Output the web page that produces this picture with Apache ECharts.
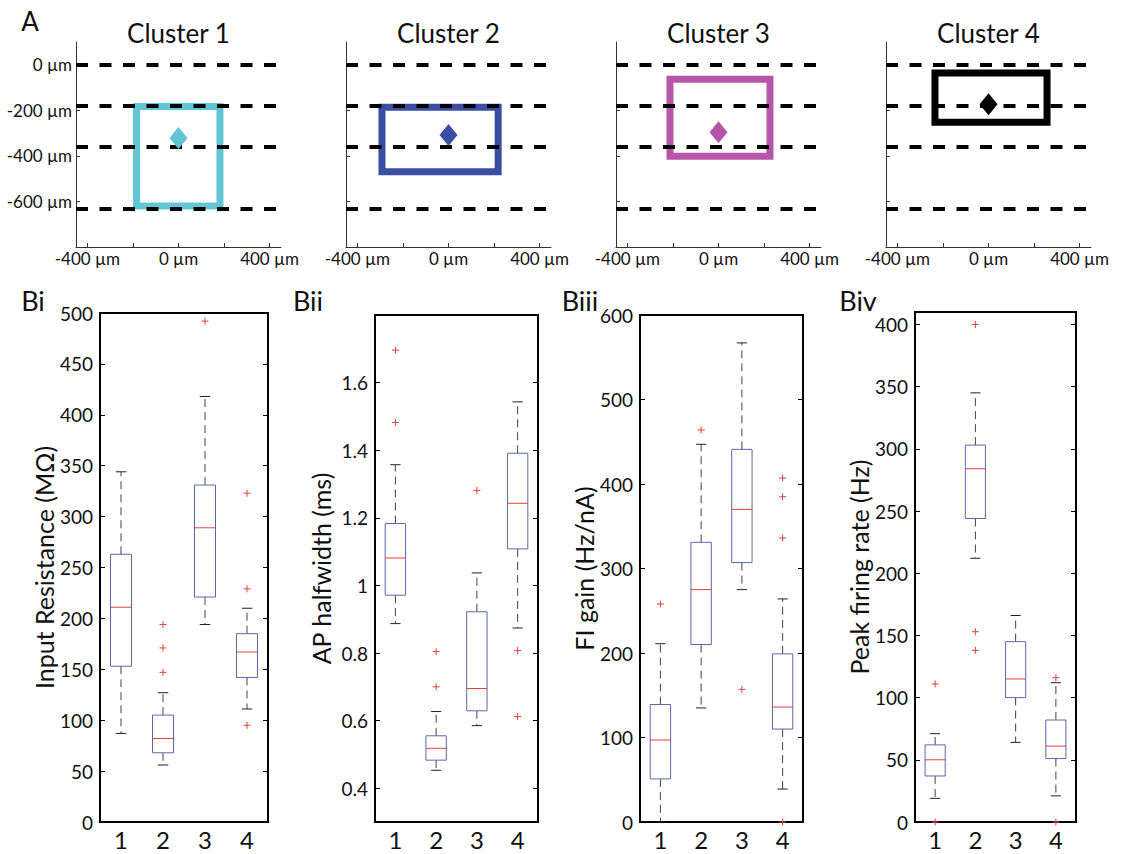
<!DOCTYPE html>
<html>
<head>
<meta charset="utf-8">
<title>Cluster morphology and electrophysiology</title>
<script src="https://cdn.jsdelivr.net/npm/echarts@6/dist/echarts.min.js"></script>
<style>
  html, body { margin: 0; padding: 0; background: #fff; }
  #chart { width: 1128px; height: 854px; }
</style>
</head>
<body>
<div id="chart"></div>
<script>
// ---------- Panel A: soma positions per cluster (µm) ----------
const clusterNames = ['Cluster 1', 'Cluster 2', 'Cluster 3', 'Cluster 4'];
const clusterColors = ['#62c5d6', '#3b4ea3', '#b556a9', '#000000'];
const layerDepths = [0, -180, -362, -630];
// extent boxes: [xMin, xMax, yTop, yBottom]
const clusterBoxes = [
  [-184, 182, -183, -620],
  [-292, 218, -187, -470],
  [-213, 226, -63, -402],
  [-235, 257, -36, -252]
];
// cluster centroid: [x, depth]
const clusterCenters = [[0, -321], [0, -308], [0, -296], [0, -173]];
const depthTicks = [0, -200, -400, -600];
const depthLabels = [0, -200, -400, -600];
const lateralTicks = [-400, -200, 0, 200, 400];
const lateralLabels = [-400, 0, 400];

// ---------- Panel B: box plot statistics per cluster ----------
const categories = [1, 2, 3, 4];
// [lower whisker, Q1, median, Q3, upper whisker]
const resistanceStats = [
  [87, 153, 211, 263, 344],
  [56, 68, 82, 105, 127],
  [194, 221, 289, 331, 418],
  [111, 142, 167, 185, 210]
];
const resistanceOutliers = [[2, 194], [2, 171], [2, 147], [3, 492], [4, 323], [4, 229], [4, 95]];

const halfwidthStats = [
  [0.887, 0.971, 1.081, 1.183, 1.357],
  [0.453, 0.483, 0.518, 0.555, 0.627],
  [0.585, 0.629, 0.695, 0.922, 1.037],
  [0.874, 1.108, 1.243, 1.391, 1.543]
];
const halfwidthOutliers = [[1, 1.696], [1, 1.482], [2, 0.804], [2, 0.700], [3, 1.281], [4, 0.807], [4, 0.612]];

const gainStats = [
  [0, 51, 97, 139, 211],
  [135, 210, 275, 331, 447],
  [275, 307, 370, 441, 567],
  [39, 110, 136, 199, 264]
];
const gainOutliers = [[1, 258], [2, 464], [3, 157], [4, 407], [4, 385], [4, 336], [4, 0]];

const rateStats = [
  [19, 37, 50, 62, 71],
  [212, 244, 284, 303, 345],
  [64, 100, 115, 145, 166],
  [21, 51, 61, 82, 112]
];
const rateOutliers = [[1, 111], [1, 0], [2, 400], [2, 153], [2, 138], [4, 116], [4, 0]];

const resistanceTicks = [0, 50, 100, 150, 200, 250, 300, 350, 400, 450, 500];
const halfwidthTicks = [0.4, 0.6, 0.8, 1, 1.2, 1.4, 1.6];
const gainTicks = [0, 100, 200, 300, 400, 500, 600];
const rateTicks = [0, 50, 100, 150, 200, 250, 300, 350, 400];

const FONT = 'Lato, "Open Sans", sans-serif';
const TEXT = '#111';

const panelsB = [
  { label: 'Bi', name: 'Input Resistance (MΩ)', stats: resistanceStats, outliers: resistanceOutliers,
    min: 0, max: 500, ticks: resistanceTicks,
    grid: { left: 100, top: 313, width: 168, height: 509 }, nameGap: 44, labelX: 33 },
  { label: 'Bii', name: 'AP halfwidth (ms)', stats: halfwidthStats, outliers: halfwidthOutliers,
    min: 0.3, max: 1.8, ticks: halfwidthTicks,
    grid: { left: 375, top: 315, width: 163, height: 507 }, nameGap: 42, labelX: 308 },
  { label: 'Biii', name: 'FI gain (Hz/nA)', stats: gainStats, outliers: gainOutliers,
    min: 0, max: 600, ticks: gainTicks,
    grid: { left: 640, top: 315, width: 163, height: 507 }, nameGap: 38, labelX: 580 },
  { label: 'Biv', name: 'Peak firing rate (Hz)', stats: rateStats, outliers: rateOutliers,
    min: 0, max: 410, ticks: rateTicks,
    grid: { left: 915, top: 312, width: 161, height: 510 }, nameGap: 37, labelX: 858 }
];

const grid = [], xAxis = [], yAxis = [], series = [], graphic = [];

// ---- Panel A grids ----
clusterNames.forEach((name, i) => {
  const left = 76 + 270 * i;
  grid.push({ left: left, top: 42, width: 205, height: 205, show: false });
  xAxis.push({
    type: 'value', gridIndex: i, min: -450, max: 450, position: 'bottom',
    axisLine: { show: true, onZero: false, lineStyle: { color: '#333', width: 1 } },
    axisTick: { show: true, inside: true, length: 4, customValues: lateralTicks, lineStyle: { color: '#333' } },
    axisLabel: { show: true, customValues: lateralLabels, formatter: v => v + ' µm',
      fontFamily: FONT, fontSize: 17, color: TEXT, margin: 3 },
    splitLine: { show: false }
  });
  yAxis.push({
    type: 'value', gridIndex: i, min: -800, max: 100, position: 'left',
    axisLine: { show: true, onZero: false, lineStyle: { color: '#333', width: 1 } },
    axisTick: { show: true, inside: true, length: 4, customValues: depthTicks, lineStyle: { color: '#333' } },
    axisLabel: { show: i === 0, customValues: depthLabels, formatter: v => v + ' µm',
      fontFamily: FONT, fontSize: 17, color: TEXT, margin: 4 },
    splitLine: { show: false }
  });
  // layer boundaries (dashed) drawn as mark lines
  series.push({
    type: 'line', xAxisIndex: i, yAxisIndex: i, data: [], silent: true,
    markLine: {
      silent: true, symbol: ['none', 'none'], label: { show: false },
      lineStyle: { color: '#000', width: 4, type: [12, 11.5] },
      data: layerDepths.map(d => ({ yAxis: d }))
    }
  });
  // cluster extent box
  series.push({
    type: 'custom', xAxisIndex: i, yAxisIndex: i, silent: true,
    data: [clusterBoxes[i]],
    encode: { x: [0, 1], y: [2, 3] },
    renderItem: (params, api) => {
      const p1 = api.coord([api.value(0), api.value(2)]);
      const p2 = api.coord([api.value(1), api.value(3)]);
      return {
        type: 'rect',
        shape: { x: p1[0], y: p1[1], width: p2[0] - p1[0], height: p2[1] - p1[1] },
        style: { fill: 'none', stroke: clusterColors[i], lineWidth: 7 }
      };
    }
  });
  // centroid diamond
  series.push({
    type: 'scatter', xAxisIndex: i, yAxisIndex: i, silent: true,
    symbol: 'diamond', symbolSize: [18, 22],
    itemStyle: { color: clusterColors[i], opacity: 1 },
    data: [clusterCenters[i]], z: 5
  });
  graphic.push({
    type: 'text', x: left + 102.5, y: 33,
    style: { text: name, fontFamily: FONT, fontSize: 26, fill: TEXT, textAlign: 'center', textVerticalAlign: 'middle' }
  });
});
graphic.push({
  type: 'text', x: 30, y: 21,
  style: { text: 'A', fontFamily: FONT, fontSize: 26, fill: TEXT, textAlign: 'center', textVerticalAlign: 'middle' }
});

// ---- Panel B grids ----
function boxRenderer(params, api) {
  const x = api.value(0);
  const lo = api.value(1), q1 = api.value(2), md = api.value(3), q3 = api.value(4), hi = api.value(5);
  const half = 0.25, cap = 0.125;
  const tl = api.coord([x - half, q3]);
  const br = api.coord([x + half, q1]);
  const mL = api.coord([x - half, md]), mR = api.coord([x + half, md]);
  const cQ3 = api.coord([x, q3]), cHi = api.coord([x, hi]);
  const cQ1 = api.coord([x, q1]), cLo = api.coord([x, lo]);
  const hiL = api.coord([x - cap, hi]), hiR = api.coord([x + cap, hi]);
  const loL = api.coord([x - cap, lo]), loR = api.coord([x + cap, lo]);
  const whisker = { stroke: '#444', lineWidth: 1, lineDash: [8, 5] };
  const capStyle = { stroke: '#222', lineWidth: 1 };
  return {
    type: 'group',
    children: [
      { type: 'line', shape: { x1: cQ3[0], y1: cQ3[1], x2: cHi[0], y2: cHi[1] }, style: whisker },
      { type: 'line', shape: { x1: cQ1[0], y1: cQ1[1], x2: cLo[0], y2: cLo[1] }, style: whisker },
      { type: 'line', shape: { x1: hiL[0], y1: hiL[1], x2: hiR[0], y2: hiR[1] }, style: capStyle },
      { type: 'line', shape: { x1: loL[0], y1: loL[1], x2: loR[0], y2: loR[1] }, style: capStyle },
      { type: 'rect', shape: { x: tl[0], y: tl[1], width: br[0] - tl[0], height: br[1] - tl[1] },
        style: { fill: '#fff', stroke: '#5a68ab', lineWidth: 1 } },
      { type: 'line', shape: { x1: mL[0], y1: mL[1], x2: mR[0], y2: mR[1] }, style: { stroke: '#e2413b', lineWidth: 1 } }
    ]
  };
}
function plusRenderer(params, api) {
  const p = api.coord([api.value(0), api.value(1)]);
  const s = 3.5;
  const st = { stroke: '#e2413b', lineWidth: 1 };
  return {
    type: 'group',
    children: [
      { type: 'line', shape: { x1: p[0] - s, y1: p[1], x2: p[0] + s, y2: p[1] }, style: st },
      { type: 'line', shape: { x1: p[0], y1: p[1] - s, x2: p[0], y2: p[1] + s }, style: st }
    ]
  };
}

panelsB.forEach((pb, k) => {
  const gi = 4 + k;
  grid.push(Object.assign({ show: true, borderColor: '#000', borderWidth: 2, backgroundColor: 'transparent' }, pb.grid));
  xAxis.push({
    type: 'value', gridIndex: gi, min: 0.5, max: 4.5,
    axisLine: { show: false }, axisTick: { show: false }, splitLine: { show: false },
    axisLabel: { show: true, customValues: categories, fontFamily: FONT, fontSize: 24, color: TEXT, margin: 5 }
  });
  const yBase = {
    type: 'value', gridIndex: gi, min: pb.min, max: pb.max,
    axisLine: { show: false }, splitLine: { show: false },
    axisTick: { show: true, inside: true, length: 5, customValues: pb.ticks, lineStyle: { color: '#000', width: 1 } }
  };
  yAxis.push(Object.assign({}, yBase, {
    position: 'left',
    axisLabel: { show: true, customValues: pb.ticks, fontFamily: FONT, fontSize: 19, color: TEXT, margin: 7 },
    name: pb.name, nameLocation: 'middle', nameRotate: 90, nameGap: pb.nameGap,
    nameTextStyle: { fontFamily: FONT, fontSize: 25, color: TEXT }
  }));
  graphic.push({
    type: 'text', x: pb.labelX, y: 300,
    style: { text: pb.label, fontFamily: FONT, fontSize: 27, fill: TEXT, textAlign: 'center', textVerticalAlign: 'middle' }
  });
});
panelsB.forEach((pb, k) => {
  const gi = 4 + k;
  yAxis.push({
    type: 'value', gridIndex: gi, min: pb.min, max: pb.max, position: 'right',
    axisLine: { show: false }, splitLine: { show: false }, axisLabel: { show: false },
    axisTick: { show: true, inside: true, length: 5, customValues: pb.ticks, lineStyle: { color: '#000', width: 1 } }
  });
});
panelsB.forEach((pb, k) => {
  const gi = 4 + k;
  series.push({
    type: 'custom', xAxisIndex: gi, yAxisIndex: gi, silent: true,
    data: pb.stats.map((s, j) => [categories[j]].concat(s)),
    encode: { x: 0, y: [1, 2, 3, 4, 5] },
    renderItem: boxRenderer, z: 3
  });
  series.push({
    type: 'custom', xAxisIndex: gi, yAxisIndex: gi, silent: true,
    data: pb.outliers, encode: { x: 0, y: 1 },
    renderItem: plusRenderer, z: 4
  });
});

const chart = echarts.init(document.getElementById('chart'), null, { renderer: 'svg' });
chart.setOption({
  animation: false,
  backgroundColor: '#fff',
  textStyle: { fontFamily: FONT },
  grid, xAxis, yAxis, series, graphic
});
</script>
</body>
</html>
